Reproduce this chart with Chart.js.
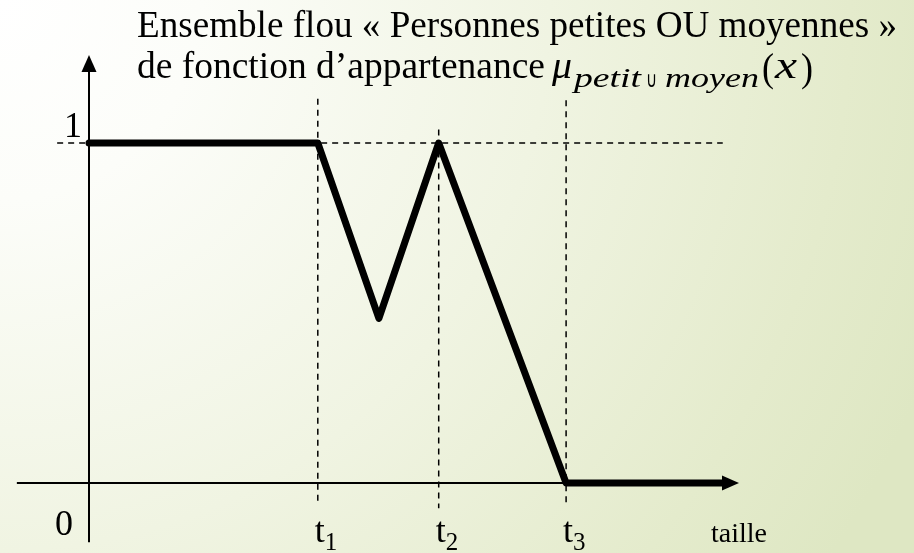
<!DOCTYPE html>
<html>
<head>
<title>Ensemble flou petit OU moyen</title>
<script src="https://cdn.jsdelivr.net/npm/chart.js"></script>
<style>
body { margin: 0; }
#chartContainer { width: 914px; height: 553px; }
</style>
</head>
<body>
  <div id="chartContainer">
    <canvas id="myChart" width="914" height="553"></canvas>
  </div>

  <script>
  // membership function mu_petit U moyen(x), x in arbitrary size units
  const sizeX = [0, 3.52, 4.46, 5.38, 7.34, 9.74];
  const membership = [1, 1, 0.484, 1, 0, 0];

  // thresholds on the size axis
  const tPositions = [3.52, 5.38, 7.34];
  const tNames = ['t', 't', 't'];
  const tSubs = ['1', '2', '3'];

  const yTickValues = [0, 1];
  const yTickLabels = ['0', '1'];
  const xAxisLabel = 'taille';
  const titleLine1 = 'Ensemble flou « Personnes petites OU moyennes »';
  const titleLine2 = 'de fonction d’appartenance';

  const SERIF = '"Liberation Serif", "Times New Roman", serif';

  function fitText(ctx, text, x, y, width) {
    const w = ctx.measureText(text).width;
    ctx.save();
    ctx.translate(x, y);
    ctx.scale(width / w, 1);
    ctx.fillText(text, 0, 0);
    ctx.restore();
  }

  function arrow(ctx, x, y, dir) {
    ctx.beginPath();
    if (dir === 'up') {
      ctx.moveTo(x, y);
      ctx.lineTo(x - 7.5, y + 17);
      ctx.lineTo(x + 7.5, y + 17);
    } else {
      ctx.moveTo(x, y);
      ctx.lineTo(x - 17, y - 7.5);
      ctx.lineTo(x - 17, y + 7.5);
    }
    ctx.closePath();
    ctx.fill();
  }

  const fuzzyPlugin = {
    id: 'fuzzyPlugin',
    beforeDraw(chart) {
      const ctx = chart.ctx;
      const g = ctx.createRadialGradient(0, 0, 0, 0, 0, 1000);
      g.addColorStop(0, '#ffffff');
      g.addColorStop(0.2, '#fcfdf9');
      g.addColorStop(0.55, '#f0f4e2');
      g.addColorStop(0.85, '#e4ebcc');
      g.addColorStop(1, '#dee7c3');
      ctx.save();
      ctx.fillStyle = g;
      ctx.fillRect(0, 0, chart.width, chart.height);
      ctx.restore();
    },
    beforeDatasetsDraw(chart) {
      const ctx = chart.ctx;
      const xs = chart.scales.x, ys = chart.scales.y;
      ctx.save();
      ctx.strokeStyle = '#000';
      ctx.fillStyle = '#000';

      // dashed guides
      ctx.lineWidth = 1.5;
      ctx.setLineDash([6, 5]);
      ctx.beginPath();
      ctx.moveTo(xs.getPixelForValue(-0.49), ys.getPixelForValue(1));
      ctx.lineTo(xs.getPixelForValue(9.75), ys.getPixelForValue(1));
      ctx.stroke();
      const tops = [1.13, 1.04, 1.126];
      const bottoms = [-0.062, -0.074, -0.065];
      tPositions.forEach((t, i) => {
        const px = xs.getPixelForValue(t);
        ctx.beginPath();
        ctx.moveTo(px, ys.getPixelForValue(tops[i]));
        ctx.lineTo(px, ys.getPixelForValue(bottoms[i]));
        ctx.stroke();
      });
      ctx.setLineDash([]);

      // axes
      ctx.lineWidth = 2;
      const x0 = xs.getPixelForValue(0), y0 = ys.getPixelForValue(0);
      const yTop = ys.getPixelForValue(1.259);
      ctx.beginPath();
      ctx.moveTo(x0, ys.getPixelForValue(-0.174));
      ctx.lineTo(x0, yTop + 10);
      ctx.moveTo(xs.getPixelForValue(-1.11), y0);
      ctx.lineTo(xs.getPixelForValue(10) - 10, y0);
      ctx.stroke();
      arrow(ctx, x0, yTop, 'up');
      arrow(ctx, xs.getPixelForValue(10), y0, 'right');
      ctx.restore();
    },
    afterDraw(chart) {
      const ctx = chart.ctx;
      const xs = chart.scales.x, ys = chart.scales.y;
      ctx.save();
      ctx.fillStyle = '#000';
      ctx.textBaseline = 'alphabetic';

      // title
      ctx.font = '37px ' + SERIF;
      fitText(ctx, titleLine1, 137, 37, 760);
      fitText(ctx, titleLine2, 137, 78, 408);
      ctx.font = 'italic 37px ' + SERIF;
      fitText(ctx, 'μ', 552, 78, 20);
      ctx.font = 'italic 28px ' + SERIF;
      fitText(ctx, 'petit', 574, 87, 67);
      fitText(ctx, 'moyen', 665, 87, 94);
      ctx.font = '22px ' + SERIF;
      fitText(ctx, '∪', 646, 87, 11);
      ctx.font = '40px ' + SERIF;
      fitText(ctx, '(', 762, 81, 12);
      fitText(ctx, ')', 801, 81, 12);
      ctx.font = 'italic 38px ' + SERIF;
      fitText(ctx, 'x', 775, 78, 22);

      // y tick labels
      ctx.font = '36px ' + SERIF;
      ctx.textAlign = 'left';
      yTickValues.forEach((v, i) => {
        const py = ys.getPixelForValue(v);
        if (v === 1) ctx.fillText(yTickLabels[i], 64, py - 6);
        else ctx.fillText(yTickLabels[i], 55, py + 52);
      });

      // threshold labels
      tPositions.forEach((t, i) => {
        const px = xs.getPixelForValue(t);
        ctx.font = '36px ' + SERIF;
        ctx.fillText(tNames[i], px - 3, 542);
        const w = ctx.measureText(tNames[i]).width;
        ctx.font = '25px ' + SERIF;
        ctx.fillText(tSubs[i], px - 3 + w, 550);
      });

      ctx.font = '27px ' + SERIF;
      fitText(ctx, xAxisLabel, 711, 542, 56);
      ctx.restore();
    }
  };

  const ctx = document.getElementById('myChart').getContext('2d');
  new Chart(ctx, {
    type: 'line',
    data: {
      datasets: [{
        label: 'mu',
        data: sizeX.map((x, i) => ({ x: x, y: membership[i] })),
        borderColor: '#000',
        borderWidth: 7,
        borderJoinStyle: 'round',
        borderCapStyle: 'round',
        pointRadius: 0,
        fill: false,
        tension: 0,
        clip: false
      }]
    },
    options: {
      responsive: false,
      animation: false,
      layout: { padding: { left: 89, right: 175, top: 143, bottom: 70 } },
      plugins: { legend: { display: false }, tooltip: { enabled: false } },
      scales: {
        x: { type: 'linear', min: 0, max: 10, display: false },
        y: { type: 'linear', min: 0, max: 1, display: false }
      }
    },
    plugins: [fuzzyPlugin]
  });
  </script>
</body>
</html>
